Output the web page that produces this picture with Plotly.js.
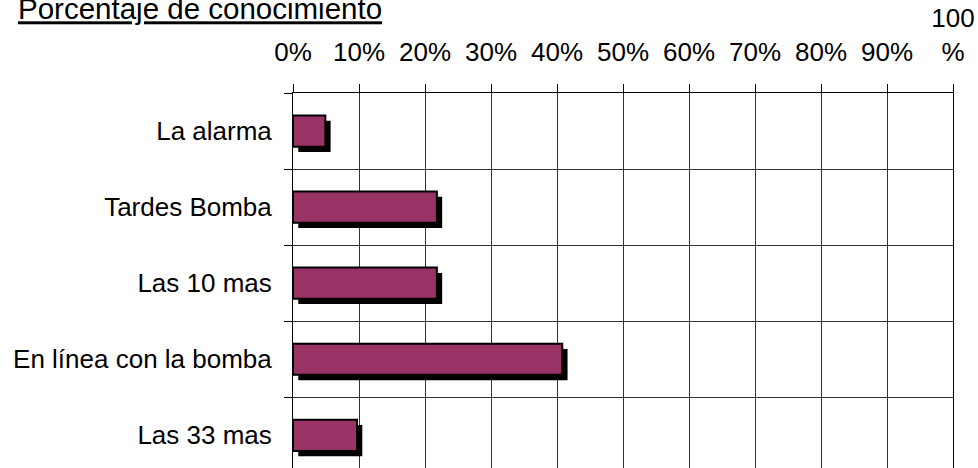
<!DOCTYPE html>
<html>
<head>
<meta charset="utf-8">
<script src="https://cdn.plot.ly/plotly-3.0.1.min.js"></script>
<style>
html, body { margin: 0; padding: 0; overflow: hidden; background: #fff; }
#chart { width: 978px; height: 468px; }
</style>
</head>
<body>
<div id="chart"></div>
<script>
// Data (bottom-to-top order on the category axis)
const categories = ["Las 33 mas", "En línea con la bomba", "Las 10 mas", "Tardes Bomba", "La alarma"];
const values = [9.7, 40.8, 21.8, 21.8, 4.9];
const tickVals = [0, 10, 20, 30, 40, 50, 60, 70, 80, 90, 100];
const tickLabels = ["0%", "10%", "20%", "30%", "40%", "50%", "60%", "70%", "80%", "90%", "100<br>%"];
const chartTitle = "Porcentaje de conocimiento";

const FONT = "'Liberation Sans', Arial, Helvetica, sans-serif";
const barWidth = 0.41;
const shadowDy = 0.07;   // category units
const shadowDx = 0.8;    // percent units

const shadow = {
  type: "bar",
  orientation: "h",
  y: categories,
  x: values,
  base: shadowDx,
  width: barWidth,
  offset: -barWidth / 2 - shadowDy,
  marker: { color: "#000000", line: { width: 0 } },
  hoverinfo: "skip",
  showlegend: false
};

const bars = {
  type: "bar",
  orientation: "h",
  y: categories,
  x: values,
  width: barWidth,
  offset: -barWidth / 2,
  marker: { color: "#993366", line: { color: "#000000", width: 2 } },
  showlegend: false
};

const layout = {
  width: 978,
  height: 468,
  margin: { l: 293, r: 25, t: 93, b: 0, pad: 0 },
  paper_bgcolor: "#ffffff",
  plot_bgcolor: "#ffffff",
  barmode: "overlay",
  font: { family: FONT, size: 26, color: "#000000" },
  title: {
    text: "<u>" + chartTitle + "</u>",
    font: { family: FONT, size: 29.5, color: "#000000" },
    xref: "container", yref: "container",
    x: 18 / 978, xanchor: "left",
    y: 1 - 9 / 468, yanchor: "middle"
  },
  xaxis: {
    side: "top",
    range: [0, 100],
    tickmode: "array",
    tickvals: tickVals,
    ticktext: tickLabels,
    ticks: "outside",
    ticklen: 8,
    tickcolor: "#000000",
    tickwidth: 1,
    ticklabelstandoff: 13,
    showgrid: true,
    gridcolor: "#333333",
    gridwidth: 1,
    zeroline: false,
    showline: true,
    mirror: true,
    linecolor: "#000000",
    linewidth: 1,
    automargin: false,
    tickfont: { family: FONT, size: 26, color: "#000000" },
    fixedrange: true
  },
  yaxis: {
    type: "category",
    categoryorder: "array",
    categoryarray: categories,
    range: [-0.43, 4.5],
    tickson: "boundaries",
    ticks: "outside",
    ticklen: 8,
    tickcolor: "#000000",
    tickwidth: 1,
    ticklabelstandoff: 15,
    showgrid: true,
    gridcolor: "#333333",
    gridwidth: 1,
    showline: true,
    mirror: true,
    linecolor: "#000000",
    linewidth: 1,
    automargin: false,
    tickfont: { family: FONT, size: 26, color: "#000000" },
    fixedrange: true
  }
};

Plotly.newPlot("chart", [shadow, bars], layout, { displayModeBar: false, staticPlot: true });
</script>
</body>
</html>
